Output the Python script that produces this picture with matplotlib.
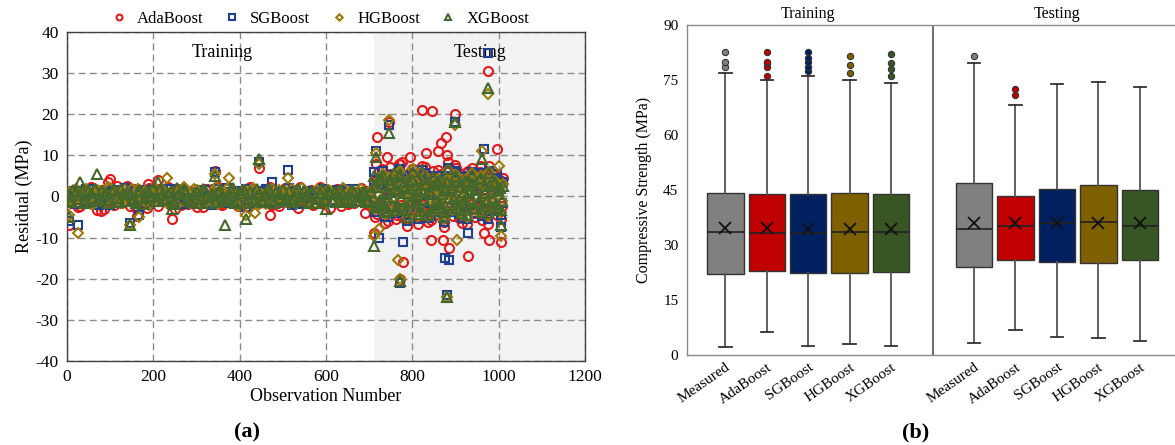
import numpy as np
import matplotlib
matplotlib.use("Agg")
import matplotlib.pyplot as plt

plt.rcParams['font.family'] = ['Liberation Serif', 'DejaVu Serif']
plt.rcParams['axes.unicode_minus'] = False

# ---------------- (a) residual scatter data ----------------
models = ["AdaBoost", "SGBoost", "HGBoost", "XGBoost"]

# observation numbers of the dense band (training 0-710, testing 711-1010)
train_obs = np.arange(5, 710, 10)
train_obs2 = np.arange(0, 710, 10)
test_obs = np.arange(712, 1010, 5)
test_obs2 = np.arange(714, 1010, 5)

ada_train = [-1.2, 0.8, -2.5, 1.5, -0.6, 2.2, -1.8, 0.4, -3.1, 1.1,
             -0.9, 2.6, -1.5, 0.3, -2.2, 1.7, -0.4, 1.2, -2.8, 0.6,
             -1.1, 1.9, -0.7, 2.4, -1.6, 0.9, -2.0, 0.2, 1.4, -1.3,
             0.7, -2.6, 1.8, -0.5, 1.0, -1.9, 2.1, -0.8, 0.5, -2.4,
             1.3, -1.0, 2.3, -0.3, -1.7, 0.9, 1.6, -2.1, 0.4, -1.4,
             2.0, -0.6, 1.1, -2.9, 0.8, -1.2, 1.5, -0.2, 2.2, -1.8,
             0.6, -1.0, 1.7, -2.3, 0.3, 1.2, -1.5, 0.9, -0.7, 1.4, -2.0]
ada_train2 = [0.9, -1.7, 1.3, -2.4, 0.5, -1.0, 2.0, -3.3, 1.6, -0.7,
              1.2, -2.0, 0.6, -1.4, 2.5, -0.9, -2.7, 1.0, -1.3, 2.1,
              -0.5, -2.2, 1.5, -1.1, 0.8, -3.0, 1.9, -0.6, -1.8, 1.1,
              -2.5, 0.4, 1.7, -1.5, -0.3, 2.3, -2.1, 0.7, -1.2, 1.4,
              -1.9, 0.3, -2.6, 1.8, -0.8, 1.0, -1.6, 2.2, -0.4, -2.3,
              1.2, -1.1, 0.6, -1.7, 2.4, -0.9, 1.3, -2.0, 0.5, -1.4,
              1.9, -2.8, 0.8, -0.6, 1.5, -1.9, 0.2, -1.0, 2.0, -1.6, 0.7]
sg_train = [-0.8, 1.2, -1.6, 0.5, 1.8, -1.1, 0.7, -2.0, 1.4, -0.4,
            1.0, -1.5, 0.3, 2.0, -0.9, 1.3, -1.8, 0.6, -0.2, 1.6,
            -1.3, 0.8, -0.6, 1.9, -1.4, 0.2, 1.1, -1.9, 0.9, -0.5,
            1.5, -1.2, 0.4, -2.1, 1.7, -0.7, 1.0, -1.6, 0.5, 1.2,
            -1.0, 1.8, -0.3, -1.5, 0.9, 1.4, -0.8, 0.6, -1.7, 1.1,
            -0.4, 2.1, -1.1, 0.7, -1.9, 1.3, -0.6, 0.8, 1.6, -1.3,
            0.3, -0.9, 1.5, -1.4, 1.0, -0.5, 1.9, -1.2, 0.4, -0.8, 1.2]
sg_train2 = [1.4, -0.6, -1.9, 1.0, -1.2, 1.7, -0.3, 1.1, -1.5, 0.8,
             -2.0, 1.5, -0.7, 0.4, 1.9, -1.3, 0.9, -0.5, 1.6, -1.8,
             0.6, 1.2, -1.0, -0.4, 1.8, -1.6, 0.5, 1.3, -0.9, -1.4,
             1.1, 0.3, -1.7, 1.6, -0.8, 0.7, -1.3, 2.0, -0.2, -1.1,
             1.4, -1.8, 0.8, 1.0, -0.6, -1.5, 1.7, -0.9, 0.2, 1.3,
             -1.2, 0.5, -2.1, 1.5, 0.9, -0.7, -1.4, 1.1, -0.3, 1.8,
             -1.0, 0.6, -1.6, 1.2, -0.5, 1.7, -1.1, 0.4, 1.0, -1.5, 0.8]
hg_train = [1.0, -1.4, 0.6, -0.9, 1.7, -1.8, 0.3, 1.3, -1.1, 2.3,
            -0.5, 0.9, -1.7, 1.5, -0.2, -1.3, 1.9, -0.8, 0.5, -1.5,
            2.0, -0.4, 1.1, -1.9, 0.7, 1.4, -1.0, 0.2, -1.6, 1.8,
            -0.7, 1.2, -1.2, 0.4, 2.2, -1.4, 0.8, -0.3, 1.6, -2.2,
            0.6, 1.0, -0.9, 1.5, -1.8, 0.3, -0.6, 1.9, -1.1, 0.9,
            1.3, -1.5, 0.5, -0.8, 2.0, -1.0, 0.7, -1.7, 1.2, -0.4,
            1.6, -1.3, 0.2, 1.1, -1.6, 0.8, -0.5, 1.4, -1.0, 0.6, -1.2]
hg_train2 = [-1.5, 0.7, 1.8, -0.9, 1.2, -0.4, -1.9, 1.5, 0.2, -1.2,
             2.1, -0.8, 1.0, -1.6, 0.6, 1.7, -1.1, -0.3, 1.4, -2.0,
             0.9, -0.6, 1.9, -1.3, 0.4, -1.7, 1.1, 2.2, -0.7, -1.0,
             1.6, -1.5, 0.5, -0.2, 1.3, -1.8, 0.8, 1.8, -1.2, 0.3,
             -0.9, 1.5, -1.4, 2.0, -0.5, 0.7, -1.9, 1.2, -0.8, 1.6,
             -1.1, 0.4, 1.9, -1.6, -0.2, 1.0, -1.3, 0.6, 1.5, -0.9,
             -1.7, 1.3, 0.9, -1.0, 2.1, -0.6, 0.5, -1.4, 1.7, -0.4, 1.1]
xg_train = [-1.0, 1.5, -0.5, 1.1, -1.4, 0.8, 1.9, -0.9, 0.4, -1.6,
            1.3, -0.3, 1.7, -1.2, 0.6, -0.7, 1.0, -1.8, 1.4, 0.2,
            -1.1, 1.6, -0.6, 0.9, -1.5, 2.1, -0.4, 1.2, -1.0, 0.5,
            -1.7, 1.8, -0.2, 0.7, -1.3, 1.5, -0.8, 0.3, 2.0, -1.1,
            0.9, -1.6, 1.2, -0.5, 0.6, -1.4, 1.7, -0.9, 1.1, -0.3,
            -1.2, 1.4, -0.7, 1.9, -1.0, 0.4, 1.0, -1.5, 0.8, -0.6,
            1.3, -1.1, 0.5, 1.6, -0.8, -1.4, 1.2, -0.2, 0.9, -1.3, 1.0]
xg_train2 = [0.7, -1.3, 1.2, 0.3, -1.7, 1.6, -0.6, -1.1, 1.4, 0.9,
             -0.8, 1.8, -1.4, 0.5, 1.1, -1.0, -1.6, 1.5, -0.3, 0.8,
             1.7, -1.2, 0.4, -0.9, 1.3, -1.8, 0.6, 1.9, -0.5, -1.3,
             1.0, -0.7, 1.6, -1.5, 0.2, 1.2, -1.1, -0.4, 1.4, -1.7,
             0.8, 1.5, -0.6, -1.2, 1.8, -0.9, 0.3, 1.1, -1.5, 0.7,
             1.6, -0.8, -1.4, 1.0, -0.2, 1.3, -1.6, 0.9, -0.7, 1.7,
             -1.0, 0.5, 1.2, -1.3, 0.6, -0.5, 1.5, -1.1, 0.4, 1.0, -0.8]

ada_test = [3.5, -4.2, 6.1, -2.3, 5.0, -6.5, 2.1, 7.2, -3.8, 4.4,
            -5.6, 1.2, 8.0, -4.9, 3.0, -7.1, 5.8, -1.5, 6.7, -3.2,
            2.6, -5.0, 7.5, -2.0, 4.1, -6.2, 1.8, 6.3, -4.4, 3.7,
            -2.8, 5.4, -7.4, 2.4, 8.3, -3.5, 4.8, -1.1, 6.9, -5.3,
            3.2, -2.5, 5.7, -6.8, 1.5, 7.0, -4.0, 2.9, -3.0, 6.0,
            -5.8, 4.2, -1.8, 7.4, -3.6, 2.2, 5.2, -4.6, 3.9, -2.2]
ada_test2 = [-5.1, 4.0, -2.7, 6.6, -3.9, 1.7, -6.0, 5.5, -1.0, 3.3,
             -4.5, 7.8, -2.1, 4.6, -5.4, 2.0, -3.3, 6.8, -0.8, 5.1,
             -6.7, 3.6, -1.6, 7.1, -4.1, 2.7, -5.8, 4.9, -2.4, 6.4,
             -3.7, 1.4, -6.1, 5.9, -1.3, 3.8, -4.8, 7.7, -2.9, 4.3,
             -6.4, 2.3, -3.1, 6.2, -1.9, 5.6, -5.0, 3.1, -2.6, 7.3,
             -4.3, 1.9, -6.6, 4.7, -1.4, 5.3, -3.4, 2.8, -5.5, 4.5]
sg_test = [2.0, -3.1, 4.5, -1.8, 6.2, -5.0, 1.4, 3.8, -2.6, 5.3,
           -4.1, 0.9, 6.8, -3.4, 2.5, -6.0, 4.9, -1.2, 5.5, -2.3,
           1.7, -4.6, 6.4, -1.5, 3.3, -5.2, 0.8, 5.0, -3.8, 2.8,
           -2.0, 4.2, -6.3, 1.9, 7.0, -2.7, 3.6, -0.7, 5.8, -4.3,
           2.6, -1.9, 4.7, -5.5, 1.1, 6.0, -3.2, 2.2, -2.4, 5.1,
           -4.8, 3.4, -1.3, 6.3, -2.9, 1.6, 4.4, -3.6, 3.0, -1.7]
sg_test2 = [-3.8, 3.0, -1.6, 5.2, -2.9, 1.2, -4.9, 4.3, -0.6, 2.4,
            -3.5, 6.5, -1.4, 3.5, -4.4, 1.5, -2.5, 5.4, -0.4, 3.9,
            -5.6, 2.8, -1.1, 5.7, -3.2, 2.0, -4.7, 3.7, -1.8, 5.0,
            -2.8, 1.0, -5.0, 4.6, -0.9, 2.9, -3.9, 6.1, -2.2, 3.4,
            -5.3, 1.8, -2.4, 4.9, -1.3, 4.4, -4.0, 2.4, -1.9, 5.8,
            -3.3, 1.4, -5.4, 3.8, -1.0, 4.1, -2.6, 2.2, -4.4, 3.6]
hg_test = [1.6, -2.5, 3.9, -1.2, 5.4, -4.2, 0.7, 4.6, -2.1, 4.8,
           -3.6, 1.9, 6.1, -2.7, 1.4, -5.3, 4.0, -0.6, 6.6, -1.8,
           2.3, -3.9, 5.7, -1.0, 2.7, -4.7, 1.2, 4.3, -3.0, 3.5,
           -1.4, 3.6, -5.6, 2.8, 6.4, -2.2, 3.0, -0.3, 5.2, -3.7,
           1.9, -1.1, 4.1, -4.9, 0.6, 5.6, -2.6, 1.7, -1.9, 4.5,
           -4.1, 2.9, -0.8, 5.9, -2.3, 1.0, 3.8, -3.1, 2.5, -1.2]
hg_test2 = [-3.0, 2.6, -1.2, 4.5, -2.3, 0.9, -4.1, 3.6, -0.3, 2.0,
            -2.9, 5.6, -1.0, 2.9, -3.8, 1.1, -2.0, 4.7, -0.2, 3.2,
            -4.8, 2.3, -0.8, 4.9, -2.6, 1.6, -4.0, 3.1, -1.4, 4.3,
            -2.2, 0.7, -4.3, 3.9, -0.6, 2.4, -3.2, 5.3, -1.7, 2.8,
            -4.6, 1.4, -1.9, 4.2, -0.9, 3.7, -3.4, 1.9, -1.5, 5.0,
            -2.7, 1.1, -4.7, 3.2, -0.7, 3.5, -2.1, 1.8, -3.7, 3.0]
xg_test = [2.4, -2.0, 4.2, -1.5, 5.0, -3.9, 1.1, 4.1, -2.4, 5.6,
           -3.3, 1.5, 5.5, -3.0, 2.0, -5.1, 3.6, -1.0, 6.0, -1.5,
           1.3, -3.5, 6.1, -0.8, 3.0, -4.4, 0.5, 4.7, -2.7, 3.2,
           -1.7, 4.0, -5.0, 1.5, 6.6, -2.0, 2.7, -0.5, 4.9, -3.4,
           2.3, -1.4, 3.7, -4.6, 0.9, 5.3, -2.9, 2.0, -1.6, 4.2,
           -3.8, 2.6, -1.1, 5.6, -2.5, 1.3, 3.4, -2.8, 2.1, -1.0]
xg_test2 = [-2.6, 2.2, -0.9, 3.9, -1.9, 0.6, -3.6, 3.1, -0.2, 1.7,
            -2.5, 4.9, -0.7, 2.5, -3.3, 0.8, -1.7, 4.1, 0.1, 2.8,
            -4.2, 1.9, -0.5, 4.3, -2.2, 1.3, -3.5, 2.7, -1.1, 3.8,
            -1.8, 0.5, -3.8, 3.4, -0.4, 2.0, -2.8, 4.7, -1.3, 2.4,
            -4.0, 1.1, -1.5, 3.7, -0.6, 3.2, -2.9, 1.6, -1.2, 4.4,
            -2.3, 0.8, -4.1, 2.8, -0.5, 3.0, -1.8, 1.5, -3.2, 2.6]

# isolated larger residuals
ada_out_obs = [5, 78, 95, 100, 162, 188, 210, 244, 343, 445, 471, 690, 712, 716, 718,
               740, 745, 771, 775, 778, 795, 823, 831, 843, 846, 860, 866, 870, 877,
               880, 884, 898, 928, 966, 977, 975, 997, 1006]
ada_out_val = [-7.0, -3.5, 3.5, 4.3, -4.8, 3.0, 4.0, -5.5, 6.3, 7.0, -4.5, -4.0, -9.0, 8.0, 14.5,
               9.5, 18.0, -20.0, 8.5, -16.0, 9.5, 21.0, 10.5, -10.5, 20.8, 11.0, 13.0, -10.5, 14.5,
               10.0, -12.5, 20.0, -14.5, -9.0, -10.5, 30.5, 11.5, -11.0]
sg_out_obs = [5, 25, 147, 166, 343, 415, 445, 475, 511, 712, 716, 723, 745, 771, 778,
              876, 884, 880, 898, 928, 966, 975, 995, 1006]
sg_out_val = [-6.0, -7.0, -6.5, -4.5, 6.0, -2.5, 8.5, 3.5, 6.5, 6.0, 11.0, -10.0, 17.5, -21.0, -11.0,
              -15.0, -15.5, -24.0, 18.0, -9.0, 11.5, 35.0, 5.5, -7.5]
hg_out_obs = [5, 25, 147, 166, 232, 343, 376, 415, 436, 445, 511, 712, 716, 723, 745,
              766, 771, 880, 898, 904, 962, 975, 1000, 1006]
hg_out_val = [-4.5, -9.0, -7.0, -5.0, 4.5, 5.5, 4.5, -4.5, -4.0, 8.0, 4.5, -9.5, 10.5, -8.0, 18.5,
              -15.5, -20.0, -24.5, 17.5, -10.5, 11.0, 25.0, 7.5, -9.5]
xg_out_obs = [5, 30, 70, 147, 210, 244, 343, 367, 415, 445, 600, 711, 712, 716, 745,
              771, 880, 898, 962, 975, 1006]
xg_out_val = [-5.0, 3.5, 5.5, -7.0, 3.5, -3.0, 5.0, -7.0, -5.5, 9.0, -3.0, -12.0, 5.0, 9.5, 15.5,
              -20.5, -24.5, 18.0, 9.0, 26.5, -7.0]

# ---------------- (b) box plot statistics ----------------
box_labels = ["Measured", "AdaBoost", "SGBoost", "HGBoost", "XGBoost"]
train_q1 = [22.2, 23.0, 22.3, 22.5, 22.7]
train_med = [33.5, 33.4, 33.4, 33.5, 33.5]
train_q3 = [44.3, 44.0, 44.0, 44.3, 43.8]
train_mean = [34.6, 34.6, 34.5, 34.5, 34.5]
train_wlo = [2.3, 6.2, 2.5, 3.0, 2.5]
train_whi = [77.0, 75.0, 76.0, 75.0, 74.2]
train_fliers = [[78.5, 80.0, 82.5], [76.0, 78.5, 79.5, 80.0, 82.5],
                [77.5, 78.5, 80.0, 81.0, 82.5], [77.0, 79.0, 81.5], [76.0, 78.0, 79.5, 82.0]]
test_q1 = [24.0, 26.0, 25.5, 25.0, 26.0]
test_med = [34.5, 35.3, 35.9, 36.2, 35.2]
test_q3 = [46.8, 43.5, 45.3, 46.3, 45.0]
test_mean = [36.0, 36.0, 36.0, 36.0, 36.0]
test_wlo = [3.3, 6.8, 5.0, 4.6, 3.8]
test_whi = [79.6, 68.3, 74.0, 74.5, 73.0]
test_fliers = [[81.5], [71.0, 72.5], [], [], []]

scatter_colors = ["#E31A1C", "#1F3F8F", "#9C7A0A", "#44682B"]
scatter_markers = ["o", "s", "D", "^"]
scatter_sizes = [6.5, 5.8, 5.0, 7.0]
box_colors = ["#808080", "#C00000", "#002060", "#7F6000", "#375623"]

fig = plt.figure(figsize=(11.75, 4.45), dpi=100)

# ---------------- left panel ----------------
ax = fig.add_axes([0.057, 0.189, 0.441, 0.739])
ax.axvspan(711, 1200, color="#F2F2F2", zorder=0, lw=0)
ax.set_axisbelow(True)
ax.grid(True, linestyle=(0, (5, 3)), color="#8C8C8C", lw=1.0)

train_series = [ada_train, sg_train, hg_train, xg_train]
train_series2 = [ada_train2, sg_train2, hg_train2, xg_train2]
test_series = [ada_test, sg_test, hg_test, xg_test]
test_series2 = [ada_test2, sg_test2, hg_test2, xg_test2]
out_obs = [ada_out_obs, sg_out_obs, hg_out_obs, xg_out_obs]
out_val = [ada_out_val, sg_out_val, hg_out_val, xg_out_val]

for i, name in enumerate(models):
    xs = np.concatenate([train_obs, train_obs2, test_obs, test_obs2, out_obs[i]])
    ys = np.concatenate([train_series[i], train_series2[i], test_series[i],
                         test_series2[i], out_val[i]])
    ax.plot(xs, ys, linestyle="none", marker=scatter_markers[i],
            markersize=scatter_sizes[i], markerfacecolor="none",
            markeredgecolor=scatter_colors[i], markeredgewidth=1.5,
            label=name, zorder=3 + i)

ax.set_xlim(0, 1200)
ax.set_ylim(-40, 40)
ax.set_xticks(range(0, 1201, 200))
ax.set_yticks(range(-40, 41, 10))
ax.tick_params(length=0, labelsize=12.5, pad=6)
for s in ax.spines.values():
    s.set_color("#404040")
    s.set_linewidth(1.0)
ax.set_xlabel("Observation Number", fontsize=13, labelpad=2)
ax.set_ylabel("Residual (MPa)", fontsize=13, labelpad=2)
ax.text(360, 35, "Training", ha="center", va="center", fontsize=13)
ax.text(957, 35, "Testing", ha="center", va="center", fontsize=13)
ax.legend(loc="lower center", bbox_to_anchor=(0.48, 0.985), ncol=4, frameon=False,
          fontsize=12, handletextpad=0.1, columnspacing=0.7, borderpad=0.1,
          markerscale=0.65)

# ---------------- right panel ----------------
ax2 = fig.add_axes([0.5845, 0.202, 0.4155, 0.742])
stats = []
positions = []
for j in range(5):
    stats.append(dict(q1=train_q1[j], med=train_med[j], q3=train_q3[j], mean=train_mean[j],
                      whislo=train_wlo[j], whishi=train_whi[j], fliers=train_fliers[j]))
    positions.append(1 + j)
for j in range(5):
    stats.append(dict(q1=test_q1[j], med=test_med[j], q3=test_q3[j], mean=test_mean[j],
                      whislo=test_wlo[j], whishi=test_whi[j], fliers=test_fliers[j]))
    positions.append(7 + j)

bp = ax2.bxp(stats, positions=positions, widths=0.88, capwidths=0.3,
             patch_artist=True, showmeans=True,
             meanprops=dict(marker="x", markeredgecolor="#111111", markersize=8, markeredgewidth=1.3),
             medianprops=dict(color="#222222", lw=1.2),
             whiskerprops=dict(color="#555555", lw=1.3),
             capprops=dict(color="#333333", lw=1.3),
             boxprops=dict(edgecolor="#333333", lw=1.0),
             flierprops=dict(marker="o", markersize=4.5, markeredgecolor="#333333", markeredgewidth=0.8))
for k in range(10):
    c = box_colors[k % 5]
    bp["boxes"][k].set_facecolor(c)
    bp["fliers"][k].set_markerfacecolor(c)

ax2.axvline(6, color="#606060", lw=1.3)
ax2.set_xlim(0.07, 11.85)
ax2.set_ylim(0, 90)
ax2.set_yticks(range(0, 91, 15))
ax2.set_xticks(positions)
ax2.set_xticklabels(box_labels + box_labels, rotation=35, ha="right",
                    rotation_mode="anchor", fontsize=11)
ax2.tick_params(length=0, labelsize=11, pad=6)
ax2.tick_params(axis="x", pad=4)
for side in ["left", "bottom", "top"]:
    ax2.spines[side].set_color("#8C8C8C")
    ax2.spines[side].set_linewidth(1.0)
ax2.spines["right"].set_visible(False)
ax2.set_ylabel("Compressive Strength (MPa)", fontsize=11.5, labelpad=8)
ax2.text(3, 90.8, "Training", ha="center", va="bottom", fontsize=11.5)
ax2.text(9, 90.8, "Testing", ha="center", va="bottom", fontsize=11.5)

fig.text(0.21, 0.029, "(a)", ha="center", va="center", fontsize=16, fontweight="bold")
fig.text(0.779, 0.029, "(b)", ha="center", va="center", fontsize=16, fontweight="bold")

fig.savefig("out.png", dpi=100)
